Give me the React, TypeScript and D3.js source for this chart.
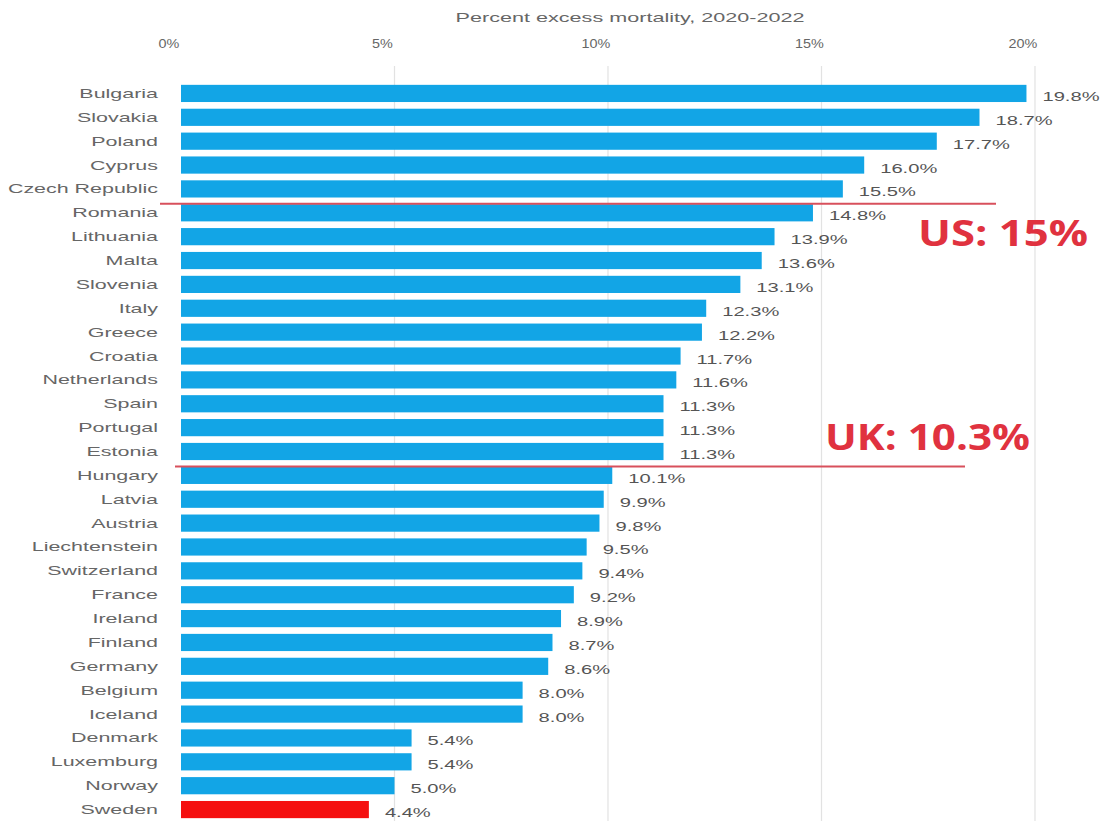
import * as d3 from 'd3';

const countries = [
    'Bulgaria', 'Slovakia', 'Poland', 'Cyprus', 'Czech Republic', 'Romania', 'Lithuania', 'Malta',
    'Slovenia', 'Italy', 'Greece', 'Croatia', 'Netherlands', 'Spain', 'Portugal', 'Estonia',
    'Hungary', 'Latvia', 'Austria', 'Liechtenstein', 'Switzerland', 'France', 'Ireland', 'Finland',
    'Germany', 'Belgium', 'Iceland', 'Denmark', 'Luxemburg', 'Norway', 'Sweden',
];
const excess = [
    19.8, 18.7, 17.7, 16.0, 15.5, 14.8, 13.9, 13.6,
    13.1, 12.3, 12.2, 11.7, 11.6, 11.3, 11.3, 11.3,
    10.1, 9.9, 9.8, 9.5, 9.4, 9.2, 8.9, 8.7,
    8.6, 8.0, 8.0, 5.4, 5.4, 5.0, 4.4,
];
const ticks = [0, 5, 10, 15, 20];
const refLabels = ['US: 15%', 'UK: 10.3%'];
const refValues = [15, 10.3];
const highlight = 'Sweden';

const W = 1103;
const H = 821;
const font = "'Liberation Sans', Arial, sans-serif";
const stretch = 1.65; // text in the source is squashed wide

export default function App() {
    const x = d3.scaleLinear().domain([0, 20]).range([181, 1035]);
    const y = d3.scaleBand<string>().domain(countries).range([81.5, 821.5]).paddingInner(0.28).paddingOuter(0.14);
    const bw = y.bandwidth();
    const step = y.step();

    // horizontal reference lines sit between the last country above and the first below
    const refY = refValues.map(v => {
        const idx = excess.findIndex(e => e < v);
        return (y(countries[idx]) ?? 0) - (step - bw) / 2 + 3;
    });
    const refLine = [
        { x1: 160, x2: 996, tx: 918, ty: 246, w: 170 },
        { x1: 175, x2: 965, tx: 825, ty: 450, w: 205 },
    ];

    return (
        <svg width={W} height={H} style={{ position: 'absolute', left: 0, top: 0, background: '#fff' }}>
            <text transform={`translate(630,22) scale(1.8,1)`} textAnchor="middle" fontFamily={font} fontSize={12} fill="#666">
                Percent excess mortality, 2020-2022
            </text>
            {ticks.map(t => (
                <g key={t}>
                    {t > 0 && <line x1={x(t)} x2={x(t)} y1={66} y2={H} stroke="#e2e2e2" strokeWidth={1.2} />}
                    <text transform={`translate(${x(t) - 12},48) scale(1.2,1)`} textAnchor="middle" fontFamily={font} fontSize={12} fill="#666">{t}%</text>
                </g>
            ))}
            {countries.map((c, i) => {
                const yy = y(c) ?? 0;
                return (
                    <g key={c}>
                        <rect x={x(0)} y={yy} width={x(excess[i]) - x(0)} height={bw}
                            fill={c === highlight ? '#f50f0f' : '#12a5e6'} />
                        <text transform={`translate(158,${yy + bw / 2 + 4.5}) scale(${stretch},1)`} textAnchor="end"
                            fontFamily={font} fontSize={13} fill="#666">{c}</text>
                        <text transform={`translate(${x(excess[i]) + 16},${yy + bw / 2 + 7.5}) scale(1.55,1)`}
                            fontFamily={font} fontSize={13} fill="#555">
                            {excess[i].toFixed(1)}%
                        </text>
                    </g>
                );
            })}
            {refLabels.map((lab, i) => (
                <g key={lab}>
                    <line x1={refLine[i].x1} x2={refLine[i].x2} y1={refY[i]} y2={refY[i]} stroke="#d8505c" strokeWidth={2} />
                    <text x={refLine[i].tx} y={refLine[i].ty} fontFamily="'Open Sans', sans-serif" fontWeight="bold" fontSize={36}
                        fill="#e0323f" textLength={refLine[i].w} lengthAdjust="spacingAndGlyphs">{lab}</text>
                </g>
            ))}
        </svg>
    );
}
